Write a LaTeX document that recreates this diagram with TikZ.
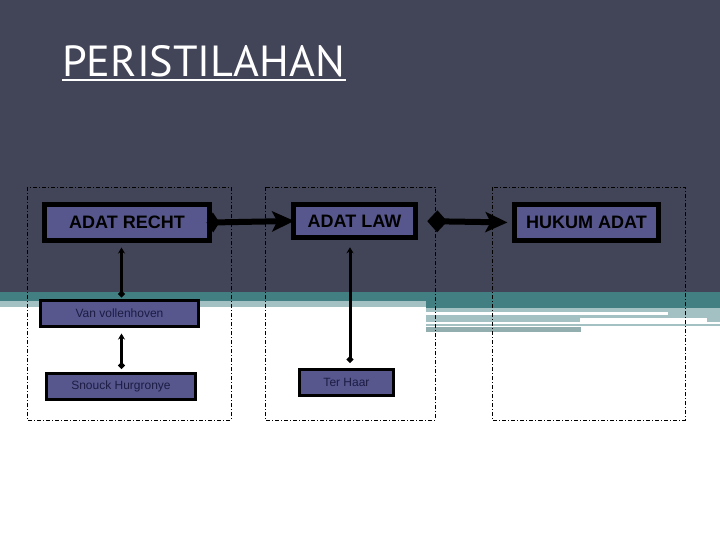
\documentclass[tikz,border=0pt]{standalone}
\usepackage{fontspec}
\setmainfont{Liberation Sans}
\newfontfamily\titlefont{PT Sans}
\usepackage{graphicx}
\usepackage{xcolor}
\definecolor{perbg}{HTML}{424457}
\definecolor{perteal}{HTML}{417F82}
\definecolor{perlight}{HTML}{A3C1C3}
\definecolor{perfill}{HTML}{57578E}
\definecolor{perink}{HTML}{1C1C44}
\usetikzlibrary{arrows.meta,positioning,calc}
\tikzset{
  perbig/.style={draw=black,line width=5pt,fill=perfill,inner sep=0pt,font=\bfseries\fontsize{18}{18}\selectfont,text=black},
  persmall/.style={draw=black,line width=3pt,fill=perfill,inner sep=0pt,minimum height=26pt,font=\fontsize{12}{12}\selectfont,text=perink},
  perflow/.style={line width=6pt,{Diamond[length=13pt,width=20pt]}-{Stealth[length=22pt,width=20pt,inset=5pt]}},
  perlink/.style={line width=3pt,{Stealth[length=6pt,width=7pt]}-{Circle[length=6pt]}},
  perframe/.style={draw=black,line width=0.8pt,dash pattern=on 4pt off 2pt on 1pt off 2pt},
}

\begin{document}
\begin{tikzpicture}[x=1pt,y=-1pt]
\useasboundingbox (0,0) rectangle (720,540);
% slide background
\fill[white] (0,0) rectangle (720,540);
\fill[perbg] (0,0) rectangle (720,292);
\fill[perteal] (0,292) rectangle (720,301);
\fill[perteal] (426,301) rectangle (720,308);
\fill[perlight] (0,301) rectangle (426,307);
\fill[perlight] (426,308) rectangle (720,312);
\fill[perlight] (668,312) rectangle (720,318);
\fill[perlight] (426,315) rectangle (720,318);
\fill[perlight] (426,318) rectangle (580,322);
\fill[perlight] (707,318) rectangle (720,322);
\fill[perlight] (426,324) rectangle (720,325.5);
\fill[perlight!90!black] (426,327) rectangle (581,332);
% title
\node[anchor=base west,inner sep=0pt,text=white] (title) at (62,77) {\resizebox{283pt}{31pt}{\titlefont PERISTILAHAN}};
\draw[white,line width=2.5pt] ([yshift=-3pt]title.base west) -- ([yshift=-3pt]title.base east);
% groups
\draw[perframe] (27,187) rectangle (231,420);
\draw[perframe] (265,187) rectangle (435,420);
\draw[perframe] (492,187) rectangle (685,420);
% terms
\node[perbig,minimum width=165pt,minimum height=36pt] (recht) at (127,222.5) {ADAT RECHT};
\node[perbig,line width=4.5pt,minimum width=122pt,minimum height=33pt] (law) at (354.5,221) {ADAT LAW};
\node[perbig,minimum width=144pt,minimum height=36pt] (hukum) at (586.5,222.5) {HUKUM ADAT};
% scholars
\node[persmall,minimum width=158pt] (van) at (119.5,313.5) {Van vollenhoven};
\node[persmall,minimum width=149pt] (snouck) at (121,386.5) {Snouck Hurgronye};
\node[persmall,minimum width=94pt] (haar) at (346.5,382.5) {Ter Haar};
% flows
\draw[perflow,shorten <=-5.5pt,shorten >=-3pt] (recht.east) -- (law.west);
\draw[perflow,{Diamond[length=20pt,width=22pt]}-{Stealth[length=22pt,width=20pt,inset=5pt]},shorten <=9.5pt,shorten >=4.5pt] (law.east) -- (hukum.west);
\draw[perlink,shorten <=4.5pt,shorten >=2pt] ([xshift=-5.5pt]recht.south) -- ([xshift=2pt]van.north);
\draw[perlink,shorten <=5.5pt,shorten >=3.5pt] ([xshift=2pt]van.south) -- ([xshift=0.5pt]snouck.north);
\draw[perlink,shorten <=7.5pt,shorten >=5.5pt] ([xshift=-4.5pt]law.south) -- ([xshift=3.5pt]haar.north);
\end{tikzpicture}
\end{document}
